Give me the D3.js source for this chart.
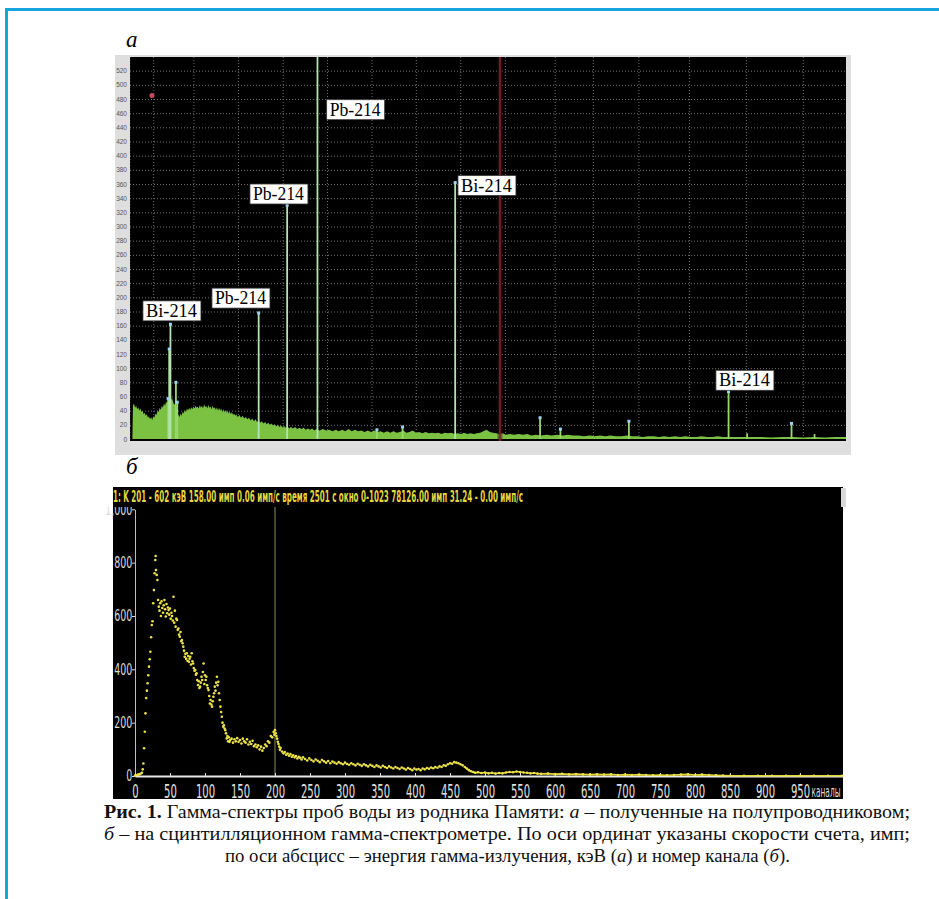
<!DOCTYPE html>
<html>
<head>
<meta charset="utf-8">
<script src="https://cdn.jsdelivr.net/npm/d3@7"></script>
<style>
  body { margin: 0; background: #fff; }
  svg { display: block; }
</style>
</head>
<body>
<div id="chart"></div>
<script>
// ---------- spectrum "а" (semiconductor detector), energy keV -> counts
const contA = [[3,0],[6,0],[7,47],[9,50],[11,44],[13,47],[15,42],[17,45],[19,40],[21,43],[23,38],[25,40],[27,35],[29,37],
  [31,33],[33,35],[35,30],[37,32],[39,28],[41,31],[43,27],[45,32],[47,30],[49,36],[51,34],[53,40],[55,38],[57,44],[59,41],
  [61,47],[63,44],[65,50],[67,47],[69,53],[71,50],[73,56],[76,52],[80,58],[83,50],[86,48],[90,40],[92,34],[94,31],[96,36],
  [98,33],[100,39],[102,36],[104,41],[106,38],[108,43],[110,40],[112,44],[114,41],[116,45],[118,42],[120,46],[122,43],
  [124,47],[126,44],[128,46],[130,43],[132,48],[134,44],[136,47],[138,43],[140,49],[142,45],[144,47],[146,43],[148,48],
  [150,44],[152,46],[154,42],[156,47],[158,43],[160,45],[162,41],[164,45],[166,40],[168,44],[170,40],[172,43],[174,38],
  [176,42],[178,38],[180,41],[182,37],[184,40],[186,36],[188,39],[190,35],[192,38],[194,34],[196,36],[198,33],[200,35],
  [203,31],[206,34],[209,30],[212,33],[215,29],[218,31],[221,28],[224,30],[227,26],[230,29],[233,25],[236,28],[239,24],
  [242,26],[245,23],[248,25],[251,22],[254,24],[257,21],[260,23],[263,20],[266,22],[269,19],[272,21],[275,18],[278,20],
  [281,17],[284,19],[287,16],[290,18],[293,16],[296,18],[299,15],[302,17],[306,15],[310,17],[314,14],[318,16],[322,14],
  [326,16],[330,13],[334,15],[338,13],[342,15],[346,12],[350,14],[356,12],[362,14],[368,12],[374,13],[380,11],[386,13],
  [392,11],[398,13],[404,11],[410,14],[416,11],[422,13],[428,11],[434,12],[440,10],[446,12],[452,10],[458,12],[464,10],
  [470,11],[476,9],[482,11],[488,9],[494,11],[500,9],[506,10],[512,12],[518,9],[524,10],[530,12],[536,9],[542,10],
  [548,8],[554,10],[560,8],[566,9],[572,8],[578,9],[584,7],[590,9],[596,8],[602,9],[608,7],[614,8],[620,7],[626,9],
  [632,7],[638,8],[644,7],[650,8],[656,9],[662,11],[668,13],[674,10],[680,9],[686,8],[692,7],[698,8],[704,6],[712,7],
  [720,6],[728,7],[736,6],[744,7],[752,5],[760,6],[770,5],[780,6],[790,5],[800,6],[810,5],[820,6],[830,5],[840,5],
  [850,4],[860,5],[870,4],[880,5],[890,4],[900,5],[910,4],[920,4],[930,5],[940,4],[950,4],[960,3],[970,4],[980,4],
  [990,3],[1000,4],[1010,3],[1020,4],[1030,3],[1040,4],[1050,3],[1060,3],[1070,4],[1080,3],[1090,3],[1100,4],[1110,3],
  [1120,3],[1140,3],[1160,3],[1180,3],[1200,2],[1220,3],[1240,3],[1260,2],[1280,3],[1300,2],[1320,3],[1340,3]];
// peaks: energy, height, marker shown
const peaksA = [[72.8,57,true],[74.8,127,true],[77.1,162,true],[87.3,80,true],[89.8,52,true],
  [242.0,178,true],[295.2,330,true],[351.9,600,false],[463,13,true],[511,17,true],[609.3,362,true],
  [768,30,true],[806,14,true],[934,25,true],[1120.3,67,true],[1155,8,false],[1238,22,true],[1281,7,false]];
const tickEnergyA = [0.24,44.89,120.09,203.30,286.81,369.73,452.94,535.75,618.86,702.17,795.29,866.60,951.81,1046.39,1152.74,1259.09,1365.44];
const tickLabelA = ["0,24","44,89","120,09","203,30","286,81","369,73","452,94","535,75","618,86","702,17","795,29","866,60","951,81","1 046,39","1 152,74","1 259,09","1 365,44"];
const yTicksA = [0,20,40,60,80,100,120,140,160,180,200,220,240,260,280,300,320,340,360,380,400,420,440,460,480,500,520];
// annotation boxes: text, left energy, top count
const labelsA = [["Bi-214",25.7,195],["Pb-214",154.7,213],["Pb-214",225.7,360],["Pb-214",369.1,479],["Bi-214",614.5,372],["Bi-214",1096.7,97]];
const cursorA = 693;
const crossA = [42.5, 485];

// ---------- spectrum "б" (scintillation), channel -> counts
const specB = [[0,2],[2,3],[4,5],[6,6],[8,8],[10,12],[11,25],[12,47],[13,104],[14,166],[15,235],[16,292],[17,320],[18,348],
  [19,378],[20,410],[21,438],[22,466],[23,520],[24,566],[25,580],[26,648],[27,697],[28,760],[29,810],[29.5,825],[30,772],
  [31,754],[32,735],[33,660],[34,635],[35,620],[36,648],[37,600],[38,655],[39,630],[40,612],[41,640],[42,660],[43,625],
  [44,598],[45,645],[46,610],[47,632],[48,622],[49,605],[50,628],[51,590],[52,612],[53,600],[54,583],[55,672],[56,575],
  [57,620],[58,560],[59,590],[60,585],[61,548],[62,553],[63,530],[64,522],[65,540],[66,505],[67,510],[68,498],[69,485],
  [70,470],[71,447],[72,458],[73,440],[74,460],[75,432],[76,450],[77,428],[78,440],[79,447],[80,418],[81,460],[82,430],
  [83,422],[84,405],[85,395],[86,397],[87,380],[88,385],[89,360],[90,341],[91,355],[92,330],[93,335],[94,350],[95,372],
  [96,360],[97,390],[98,422],[99,345],[100,378],[101,360],[102,372],[103,340],[104,330],[105,322],[106,300],[107,272],
  [108,285],[109,268],[110,260],[111,280],[112,297],[113,310],[114,335],[115,320],[116,350],[117,372],[118,340],[119,353],
  [120,310],[121,285],[122,260],[123,240],[124,222],[125,200],[126,185],[127,190],[128,178],[129,172],[130,160],[131,141],
  [132,150],[133,130],[134,145],[135,128],[136,135],[138,140],[140,125],[142,138],[144,130],[146,142],[148,128],[150,135],
  [152,122],[154,140],[156,130],[158,125],[160,138],[162,118],[164,128],[166,120],[168,132],[170,112],[172,118],[174,108],
  [176,115],[178,100],[180,110],[182,95],[184,105],[186,118],[188,112],[190,130],[192,125],[194,150],[196,145],[198,165],
  [199,155],[200,172],[201,160],[202,150],[203,140],[204,128],[205,120],[206,110],[207,98],[208,105],[210,92],[212,85],
  [214,90],[216,80],[218,84],[220,76],[222,82],[224,72],[226,78],[228,70],[230,75],[232,66],[234,72],[236,68],[238,62],
  [240,70],[243,64],[246,58],[249,66],[252,60],[255,55],[258,62],[261,57],[264,52],[267,60],[270,55],[273,50],[276,56],
  [279,48],[282,54],[285,50],[288,46],[291,52],[294,48],[297,44],[300,50],[303,45],[306,42],[309,48],[312,44],[315,40],
  [318,46],[321,42],[324,38],[327,44],[330,40],[333,36],[336,42],[339,38],[342,34],[345,40],[348,36],[351,32],[354,38],
  [357,34],[360,30],[363,36],[366,32],[369,28],[372,34],[375,30],[378,26],[381,32],[384,28],[387,24],[390,30],[393,26],
  [396,22],[399,28],[402,24],[405,26],[408,22],[411,28],[414,25],[417,30],[420,27],[423,32],[426,29],[429,34],[432,31],
  [435,36],[438,34],[441,40],[444,38],[447,44],[450,48],[453,46],[456,52],[459,50],[462,48],[465,44],[468,40],[471,34],
  [474,28],[477,22],[480,18],[483,15],[486,12],[490,14],[495,11],[500,13],[505,10],[510,12],[515,9],[520,11],[525,10],
  [530,13],[535,15],[540,14],[545,17],[550,15],[555,13],[560,12],[565,10],[570,11],[575,9],[580,8],[590,9],[600,7],
  [610,8],[620,6],[630,7],[640,6],[650,5],[660,6],[670,5],[680,6],[690,4],[700,5],[710,4],[720,5],[730,4],[740,3],
  [750,4],[760,3],[770,4],[780,5],[790,6],[800,4],[810,5],[820,4],[830,3],[840,2],[850,1],[870,1],[890,1],[910,1],
  [930,1],[950,1],[970,1],[990,1],[1010,1]];
const xTicksB = [0,50,100,150,200,250,300,350,400,450,500,550,600,650,700,750,800,850,900,950];
const yTicksB = [0,200,400,600,800,1000];
const markerChB = 200;
const headerB = "1: K 201 - 602 кэВ  158.00 имп 0.06 имп/с   время 2501 с   окно 0-1023 78126.00 имп 31.24 - 0.00 имп/с";

const serif = "'Liberation Serif', 'Times New Roman', 'DejaVu Serif', serif";
const narrow = "'Liberation Sans Narrow', 'DejaVu Sans Condensed', 'Liberation Sans', sans-serif";

const svg = d3.select("#chart").append("svg")
  .attr("width", 939)
  .attr("height", 899);

// blue page frame
svg.append("path")
  .attr("d", "M6.5,899 V9.5 H939")
  .attr("fill", "none")
  .attr("stroke", "#14a5de")
  .attr("stroke-width", 3);

// ================= panel а =================
const xA = d3.scaleLinear().domain([0, 1340]).range([129.2, 846.1]);
const yA = d3.scaleLinear().domain([0, 540]).range([439, 56.5]);

svg.append("text")
  .attr("x", 126).attr("y", 47)
  .style("font-family", serif)
  .attr("font-style", "italic")
  .attr("font-size", 23)
  .text("а");

svg.append("rect")
  .attr("x", 115).attr("y", 55).attr("width", 736).attr("height", 400)
  .attr("fill", "#dedede");
svg.append("rect")
  .attr("x", 130).attr("y", 57).attr("width", 716).attr("height", 384)
  .attr("fill", "#000");

const defs = svg.append("defs");
defs.append("clipPath").attr("id", "clipA")
  .append("rect").attr("x", 130).attr("y", 57).attr("width", 716).attr("height", 384);
defs.append("clipPath").attr("id", "clipPanelA")
  .append("rect").attr("x", 115).attr("y", 55).attr("width", 736).attr("height", 400);
defs.append("clipPath").attr("id", "clipB")
  .append("rect").attr("x", 100).attr("y", 507).attr("width", 743).attr("height", 292);

const plotA = svg.append("g").attr("clip-path", "url(#clipA)");

// dotted grid
plotA.append("g")
  .selectAll("line")
  .data(yTicksA.slice(1))
  .join("line")
  .attr("x1", 130).attr("x2", 846)
  .attr("y1", d => yA(d) + 0.5).attr("y2", d => yA(d) + 0.5)
  .attr("stroke", "#707070")
  .attr("stroke-dasharray", "1,2");
plotA.append("g")
  .selectAll("line")
  .data(tickEnergyA)
  .join("line")
  .attr("x1", d => xA(d) + 0.5).attr("x2", d => xA(d) + 0.5)
  .attr("y1", 57).attr("y2", 441)
  .attr("stroke", "#707070")
  .attr("stroke-dasharray", "1,2");

// continuum
plotA.append("path")
  .datum(contA)
  .attr("fill", "#7cc242")
  .attr("d", d3.area().x(d => xA(d[0])).y0(yA(0)).y1(d => yA(d[1])));

// cursor
plotA.append("line")
  .attr("x1", xA(cursorA)).attr("x2", xA(cursorA))
  .attr("y1", 57).attr("y2", 441)
  .attr("stroke", "#3a1018")
  .attr("stroke-width", 5)
  .attr("opacity", 0.5);
plotA.append("line")
  .attr("x1", xA(cursorA)).attr("x2", xA(cursorA))
  .attr("y1", 57).attr("y2", 441)
  .attr("stroke", "#86202f")
  .attr("stroke-width", 1.6);

// peaks
plotA.append("g")
  .selectAll("line")
  .data(peaksA)
  .join("line")
  .attr("x1", d => xA(d[0])).attr("x2", d => xA(d[0]))
  .attr("y1", yA(0)).attr("y2", d => yA(d[1]))
  .attr("stroke", d => d[1] > 100 ? "#b4e2b0" : "#98d86a")
  .attr("stroke-width", 1.8);
plotA.append("g")
  .selectAll("rect")
  .data(peaksA.filter(d => d[2]))
  .join("rect")
  .attr("x", d => xA(d[0]) - 1.5).attr("y", d => yA(d[1]) - 1.5)
  .attr("width", 3).attr("height", 3)
  .attr("fill", "#9fd4ee");

plotA.append("circle")
  .attr("cx", xA(crossA[0])).attr("cy", yA(crossA[1]))
  .attr("r", 2.5)
  .attr("fill", "#c8485c");

// axis labels
const axYA = svg.append("g")
  .attr("transform", "translate(130,0)")
  .call(d3.axisLeft(yA).tickValues(yTicksA).tickSize(0).tickPadding(3));
axYA.select(".domain").remove();
axYA.selectAll("text").attr("font-size", 6.5).attr("fill", "#555").attr("font-family", "Liberation Sans");

const axXA = svg.append("g")
  .attr("transform", "translate(0,441)")
  .attr("clip-path", "url(#clipPanelA)")
  .call(d3.axisBottom(xA).tickValues(tickEnergyA).tickFormat((d, i) => tickLabelA[i]).tickSize(0).tickPadding(4));
axXA.select(".domain").remove();
axXA.selectAll("text").attr("font-size", 6.5).attr("fill", "#555").attr("font-family", "Liberation Sans");

// annotation boxes
const labA = svg.append("g").selectAll("g").data(labelsA).join("g")
  .attr("transform", d => `translate(${xA(d[1])},${yA(d[2])})`);
labA.append("rect")
  .attr("width", 58).attr("height", 20)
  .attr("fill", "#fff")
  .attr("stroke", "#333")
  .attr("stroke-width", 0.8);
labA.append("text")
  .attr("x", 3).attr("y", 16)
  .style("font-family", serif)
  .attr("font-size", 19)
  .attr("textLength", 51)
  .attr("lengthAdjust", "spacingAndGlyphs")
  .text(d => d[0]);

// ================= panel б =================
const xB = d3.scaleLinear().domain([0, 1011.4]).range([135, 843]);
const yB = d3.scaleLinear().domain([0, 1000]).range([776, 509.3]);

svg.append("text")
  .attr("x", 126).attr("y", 474)
  .style("font-family", serif)
  .attr("font-style", "italic")
  .attr("font-size", 23)
  .text("б");

svg.append("rect")
  .attr("x", 113).attr("y", 487).attr("width", 730).attr("height", 312)
  .attr("fill", "#000");

// axes (clipped under the header strip like the reference)
const gB = svg.append("g").attr("clip-path", "url(#clipB)");
const axYB = gB.append("g")
  .attr("transform", "translate(135,0)")
  .call(d3.axisLeft(yB).tickValues(yTicksB).tickSize(3).tickSizeOuter(0).tickPadding(1));
axYB.select(".domain").attr("stroke", "#bdbdbd");
axYB.selectAll(".tick line").attr("stroke", "#ddd");
axYB.selectAll("text")
  .attr("font-size", 15).attr("fill", "#dadada").style("font-family", narrow)
  .attr("transform", "scale(0.7,1)");

gB.append("line")
  .attr("x1", xB(markerChB)).attr("x2", xB(markerChB))
  .attr("y1", 505).attr("y2", yB(0))
  .attr("stroke", "#5e5e3a")
  .attr("stroke-width", 1.5);

const axXB = svg.append("g")
  .attr("transform", `translate(0,${yB(0)})`)
  .call(d3.axisBottom(xB).tickValues(xTicksB).tickSize(-3).tickSizeOuter(0));
axXB.select(".domain").attr("stroke", "#e8e8e8").attr("stroke-width", 2);
axXB.selectAll(".tick line").attr("stroke", "#ddd");
axXB.selectAll("text")
  .attr("y", 22).attr("dy", null)
  .attr("font-size", 20).attr("fill", "#e0e0e0").style("font-family", narrow)
  .attr("transform", "scale(0.56,1)");

svg.append("text")
  .attr("x", 826).attr("y", 797)
  .attr("text-anchor", "middle")
  .style("font-family", narrow)
  .attr("font-size", 15)
  .attr("textLength", 29)
  .attr("lengthAdjust", "spacingAndGlyphs")
  .attr("fill", "#dadada")
  .text("каналы");

// spectrum dots and the flat tail line
svg.append("path")
  .datum(specB.filter(d => d[0] >= 470))
  .attr("fill", "none")
  .attr("stroke", "#e2d63a")
  .attr("stroke-width", 1.6)
  .attr("d", d3.line().x(d => xB(d[0])).y(d => yB(d[1])));
svg.append("g")
  .selectAll("circle")
  .data(specB)
  .join("circle")
  .attr("cx", d => xB(d[0]))
  .attr("cy", d => yB(d[1]))
  .attr("r", 1.3)
  .attr("fill", "#ece24a");

// header strip
svg.append("text")
  .attr("x", 113).attr("y", 502)
  .style("font-family", narrow)
  .attr("font-size", 15)
  .attr("font-weight", "bold")
  .attr("textLength", 410)
  .attr("lengthAdjust", "spacingAndGlyphs")
  .attr("fill", "#e6d640")
  .text(headerB);
svg.append("rect")
  .attr("x", 841).attr("y", 488).attr("width", 5).attr("height", 19)
  .attr("fill", "#d8d8d8");

// ================= caption =================
const cap = svg.append("g")
  .style("font-family", serif)
  .attr("font-size", 18)
  .attr("fill", "#111");

const l1 = cap.append("text").attr("x", 104).attr("y", 818)
  .attr("textLength", 806).attr("lengthAdjust", "spacingAndGlyphs");
l1.append("tspan").attr("font-weight", "bold").text("Рис. 1.");
l1.append("tspan").text(" Гамма-спектры проб воды из родника Памяти: ");
l1.append("tspan").attr("font-style", "italic").text("а");
l1.append("tspan").text(" – полученные на полупроводниковом;");

const l2 = cap.append("text").attr("x", 104).attr("y", 840)
  .attr("textLength", 806).attr("lengthAdjust", "spacingAndGlyphs");
l2.append("tspan").attr("font-style", "italic").text("б");
l2.append("tspan").text(" – на сцинтилляционном гамма-спектрометре. По оси ординат указаны скорости счета, имп;");

const l3 = cap.append("text").attr("x", 225).attr("y", 862)
  .attr("textLength", 565).attr("lengthAdjust", "spacingAndGlyphs");
l3.append("tspan").text("по оси абсцисс – энергия гамма-излучения, кэВ (");
l3.append("tspan").attr("font-style", "italic").text("а");
l3.append("tspan").text(") и номер канала (");
l3.append("tspan").attr("font-style", "italic").text("б");
l3.append("tspan").text(").");
</script>
</body>
</html>
